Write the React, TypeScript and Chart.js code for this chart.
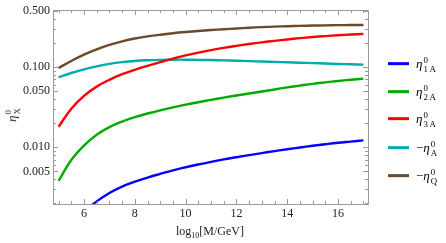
import React, { useEffect, useRef } from 'react';
import { Chart, registerables } from 'chart.js';

Chart.register(...registerables);

const xValues = [5, 5.5, 6, 6.5, 7, 7.5, 8, 8.5, 9, 9.5, 10, 10.5, 11, 11.5, 12, 12.5, 13, 13.5, 14, 14.5, 15, 15.5, 16, 16.5, 17];
const eta1A = [null, null, 0.001585, 0.002113, 0.002692, 0.003236, 0.003715, 0.004188, 0.004656, 0.005152, 0.005623, 0.006095, 0.006577, 0.007047, 0.007499, 0.00798, 0.008453, 0.008954, 0.009441, 0.009931, 0.01042, 0.01089, 0.01135, 0.01175, 0.01216];
const eta2A = [0.0038, 0.00692, 0.01047, 0.01429, 0.01778, 0.02089, 0.02371, 0.0263, 0.02884, 0.03133, 0.03388, 0.03639, 0.0389, 0.0415, 0.04416, 0.04677, 0.04955, 0.05248, 0.05559, 0.05861, 0.06166, 0.06427, 0.06683, 0.06918, 0.07161];
const eta3A = [0.018, 0.0302, 0.0437, 0.0569, 0.0692, 0.0813, 0.0923, 0.1033, 0.1148, 0.1271, 0.1396, 0.151, 0.1622, 0.173, 0.1832, 0.1932, 0.2028, 0.2118, 0.2203, 0.2286, 0.236, 0.2427, 0.2483, 0.2535, 0.2582];
const minusEtaA = [0.0745, 0.0841, 0.0933, 0.1016, 0.1091, 0.1148, 0.1189, 0.1213, 0.1227, 0.1233, 0.1233, 0.1227, 0.1219, 0.1208, 0.1197, 0.1183, 0.1169, 0.1156, 0.1143, 0.113, 0.1117, 0.1104, 0.1091, 0.1081, 0.1069];
const minusEtaQ = [0.097, 0.1189, 0.1429, 0.166, 0.1884, 0.2089, 0.2265, 0.2404, 0.2523, 0.263, 0.2723, 0.2805, 0.2884, 0.2951, 0.302, 0.3083, 0.3141, 0.3184, 0.3221, 0.3251, 0.3281, 0.3304, 0.3319, 0.3334, 0.3342];

const xMajorTicks = [6, 8, 10, 12, 14, 16];
const xMinorTicks = [5, 5.5, 6.5, 7, 7.5, 8.5, 9, 9.5, 10.5, 11, 11.5, 12.5, 13, 13.5, 14.5, 15, 15.5, 16.5, 17];
const yMajorTicks = [0.005, 0.01, 0.05, 0.1, 0.5];
const yMinorTicks = [0.002, 0.003, 0.004, 0.006, 0.007, 0.008, 0.009, 0.02, 0.03, 0.04, 0.06, 0.07, 0.08, 0.09, 0.2, 0.3, 0.4];

const seriesColors = ['#0000ff', '#00aa00', '#ff0000', '#00acac', '#6b4a2b'];
const seriesData = [eta1A, eta2A, eta3A, minusEtaA, minusEtaQ];
const legendLabels = [
  { pre: '', sub: '1 A', sup: '0', sym: 'η' },
  { pre: '', sub: '2 A', sup: '0', sym: 'η' },
  { pre: '', sub: '3 A', sup: '0', sym: 'η' },
  { pre: '−', sub: 'A', sup: '0', sym: 'η' },
  { pre: '−', sub: 'Q', sup: '0', sym: 'η' },
];

const FONT = '"Liberation Serif", "DejaVu Serif", serif';
const FRAME = '#9a9a9a';

const framePlugin = {
  id: 'frameTicks',
  afterDatasetsDraw(chart: any) {
    const { ctx, chartArea, scales } = chart;
    const { left, right, top, bottom } = chartArea;
    ctx.save();
    ctx.strokeStyle = FRAME;
    ctx.lineWidth = 1;
    ctx.beginPath();
    ctx.rect(Math.round(left) + 0.5, Math.round(top) + 0.5, Math.round(right - left), Math.round(bottom - top));
    ctx.stroke();
    ctx.beginPath();
    const xs = scales.x;
    const ys = scales.y;
    const drawX = (v: number, len: number) => {
      const p = Math.round(xs.getPixelForValue(v)) + 0.5;
      ctx.moveTo(p, bottom);
      ctx.lineTo(p, bottom - len);
      ctx.moveTo(p, top);
      ctx.lineTo(p, top + len);
    };
    const drawY = (v: number, len: number) => {
      const p = Math.round(ys.getPixelForValue(v)) + 0.5;
      if (p < top - 0.5 || p > bottom + 0.5) return;
      ctx.moveTo(left, p);
      ctx.lineTo(left + len, p);
      ctx.moveTo(right, p);
      ctx.lineTo(right - len, p);
    };
    xMajorTicks.forEach((v) => drawX(v, 5));
    xMinorTicks.forEach((v) => drawX(v, 3));
    yMajorTicks.forEach((v) => drawY(v, 5));
    yMinorTicks.forEach((v) => drawY(v, 3));
    ctx.stroke();
    ctx.restore();
  },
};

function Label({ pre, sym, sup, sub, size }: any) {
  return (
    <span style={{ display: 'inline-flex', alignItems: 'center', fontFamily: FONT, fontSize: size, lineHeight: 1, whiteSpace: 'nowrap' }}>
      {pre && <span>{pre}</span>}
      <span style={{ fontStyle: 'italic' }}>{sym}</span>
      <span style={{ display: 'inline-flex', flexDirection: 'column', fontSize: size * 0.68, lineHeight: 1, marginLeft: 1, marginTop: 2 }}>
        <span>{sup}</span>
        <span>{sub}</span>
      </span>
    </span>
  );
}

export default function App() {
  const ref = useRef<HTMLCanvasElement>(null);
  useEffect(() => {
    document.body.style.margin = '0';
    const datasets = seriesData.map((arr, i) => ({
      label: legendLabels[i].pre + 'η' + legendLabels[i].sub,
      data: xValues.map((x, j) => ({ x, y: arr[j] })),
      borderColor: seriesColors[i],
      backgroundColor: seriesColors[i],
      borderWidth: 2.4,
      pointRadius: 0,
      tension: 0.4,
      spanGaps: false,
      fill: false,
    }));
    const chart = new Chart(ref.current as HTMLCanvasElement, {
      type: 'line',
      data: { datasets },
      options: {
        animation: false,
        responsive: false,
        layout: { padding: { left: 0, top: 8, right: 78, bottom: 0 } },
        plugins: { legend: { display: false }, tooltip: { enabled: false } },
        scales: {
          x: {
            type: 'linear',
            min: 4.78,
            max: 17.18,
            grid: { display: false, drawTicks: false },
            border: { display: false },
            afterBuildTicks: (s: any) => {
              s.ticks = xMajorTicks.map((v) => ({ value: v }));
            },
            afterFit: (s: any) => {
              s.height = 39;
            },
            ticks: {
              padding: 3,
              color: '#222',
              font: { family: FONT, size: 12 },
              maxRotation: 0,
              autoSkip: false,
              callback: (v: any) => String(v),
            },
          },
          y: {
            type: 'logarithmic',
            min: 0.00196,
            max: 0.51,
            grid: { display: false, drawTicks: false },
            border: { display: false },
            afterBuildTicks: (s: any) => {
              s.ticks = yMajorTicks.map((v) => ({ value: v }));
            },
            afterFit: (s: any) => {
              s.width = 53;
            },
            ticks: {
              padding: 3,
              color: '#222',
              font: { family: FONT, size: 12 },
              autoSkip: false,
              callback: (v: any) => Number(v).toFixed(3),
            },
          },
        },
      },
      plugins: [framePlugin],
    });
    return () => chart.destroy();
  }, []);

  const legendY = [64, 92, 119, 148, 176];

  return (
    <div style={{ position: 'relative', width: 446, height: 243, background: '#fff' }}>
      <canvas ref={ref} width={446} height={243} style={{ position: 'absolute', left: 0, top: 0 }} />
      <div
        style={{
          position: 'absolute',
          left: 12,
          top: 115,
          transform: 'translate(-50%, -50%) rotate(-90deg)',
          color: '#222',
        }}
      >
        <Label pre="" sym="η" sup="0" sub="X" size={13} />
      </div>
      <div
        style={{
          position: 'absolute',
          left: 210,
          top: 232,
          transform: 'translate(-50%, -50%)',
          fontFamily: FONT,
          fontSize: 12,
          color: '#222',
          whiteSpace: 'nowrap',
        }}
      >
        log<sub style={{ fontSize: 8 }}>10</sub>[M/GeV]
      </div>
      {legendLabels.map((l, i) => (
        <div key={i} style={{ position: 'absolute', left: 388, top: legendY[i], transform: 'translateY(-50%)', display: 'flex', alignItems: 'center' }}>
          <div style={{ width: 21, height: 3, background: seriesColors[i], marginRight: 7 }} />
          <Label pre={l.pre} sym={l.sym} sup={l.sup} sub={l.sub} size={13} />
        </div>
      ))}
    </div>
  );
}
